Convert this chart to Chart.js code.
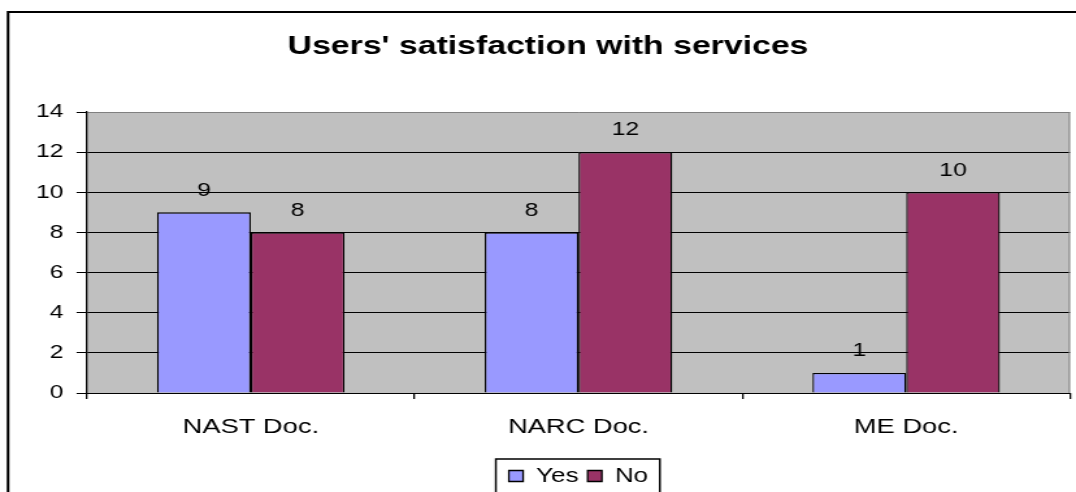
<!DOCTYPE html>
<html>
<head>
<meta charset="utf-8">
<script src="https://cdn.jsdelivr.net/npm/chart.js@4.4.1/dist/chart.umd.min.js"></script>
<style>
    html, body { margin: 0; padding: 0; background: #fff; overflow: hidden; }
    #chart { display: block; width: 1076px !important; height: 492px !important; }
</style>
</head>
<body>
<!-- the original picture is stretched sideways, so the canvas is drawn narrow and widened by CSS -->
<canvas id="chart" width="828" height="492"></canvas>
<script>
// Chart data
const categories = ['NAST Doc.', 'NARC Doc.', 'ME Doc.'];
const yesValues = [9, 8, 1];
const noValues = [8, 12, 10];
const yTicks = [0, 2, 4, 6, 8, 10, 12, 14];

const fontFamily = '"Liberation Sans", Arial, sans-serif';

// Gray plot background + right border
const plotBackground = {
    id: 'plotBackground',
    beforeDraw(chart) {
        const { ctx, chartArea: a } = chart;
        ctx.save();
        ctx.fillStyle = '#C0C0C0';
        ctx.fillRect(a.left, a.top, a.right - a.left, a.bottom - a.top);
        ctx.restore();
    },
    beforeDatasetsDraw(chart) {
        const { ctx, chartArea: a } = chart;
        ctx.save();
        ctx.strokeStyle = '#808080';
        ctx.lineWidth = 1;
        ctx.beginPath();
        ctx.moveTo(a.right - 0.5, a.top);
        ctx.lineTo(a.right - 0.5, a.bottom);
        ctx.stroke();
        ctx.restore();
    }
};

// Value labels above the bars
const valueLabels = {
    id: 'valueLabels',
    afterDatasetsDraw(chart) {
        const ctx = chart.ctx;
        ctx.save();
        ctx.font = '19px ' + fontFamily;
        ctx.fillStyle = '#000';
        ctx.textAlign = 'center';
        ctx.textBaseline = 'middle';
        chart.data.datasets.forEach((ds, i) => {
            chart.getDatasetMeta(i).data.forEach((bar, j) => {
                ctx.fillText(String(ds.data[j]), bar.x, bar.y - 22);
            });
        });
        ctx.restore();
    }
};

// Outer frame and legend frame
const frames = {
    id: 'frames',
    afterDraw(chart) {
        const ctx = chart.ctx;
        ctx.save();
        ctx.strokeStyle = '#000';
        ctx.lineWidth = 2;
        ctx.beginPath();
        ctx.moveTo(6.2, chart.height + 2);
        ctx.lineTo(6.2, 12);
        ctx.lineTo(chart.width + 2, 12);
        ctx.stroke();

        const boxes = chart.legend.legendHitBoxes;
        if (boxes && boxes.length) {
            const first = boxes[0];
            const last = boxes[boxes.length - 1];
            const left = first.left - 10;
            const right = last.left + last.width + 9;
            const top = chart.legend.top;
            ctx.lineWidth = 1.5;
            ctx.beginPath();
            ctx.moveTo(left, chart.height + 2);
            ctx.lineTo(left, top);
            ctx.lineTo(right, top);
            ctx.lineTo(right, chart.height + 2);
            ctx.stroke();
        }
        ctx.restore();
    }
};

const ctx = document.getElementById('chart').getContext('2d');
const chart = new Chart(ctx, {
    type: 'bar',
    data: {
        labels: categories,
        datasets: [{
            label: 'Yes',
            data: yesValues,
            backgroundColor: '#9999FF',
            borderColor: '#000',
            borderWidth: 1.3,
            categoryPercentage: 0.572,
            barPercentage: 1.0
        }, {
            label: 'No',
            data: noValues,
            backgroundColor: '#993366',
            borderColor: '#000',
            borderWidth: 1.3,
            categoryPercentage: 0.572,
            barPercentage: 1.0
        }]
    },
    options: {
        responsive: false,
        devicePixelRatio: 1,
        animation: false,
        layout: {
            padding: { left: 20, right: 4.6, top: 0, bottom: -4 }
        },
        scales: {
            y: {
                min: 0,
                max: 14,
                afterBuildTicks: (scale) => {
                    scale.ticks = yTicks.map(v => ({ value: v }));
                },
                afterFit: (scale) => { scale.width = 46.9; },
                border: { color: '#000', width: 1.3 },
                grid: {
                    color: (c) => (c.tick && c.tick.value === 14 ? '#808080' : '#000'),
                    tickColor: '#000',
                    tickLength: 8,
                    lineWidth: 1
                },
                ticks: {
                    color: '#000',
                    padding: 10,
                    font: { family: fontFamily, size: 19 }
                }
            },
            x: {
                afterFit: (scale) => { scale.height = 66; },
                border: { color: '#000', width: 1 },
                grid: {
                    drawOnChartArea: false,
                    color: '#000',
                    tickLength: 6,
                    lineWidth: 1.3
                },
                ticks: {
                    color: '#000',
                    padding: 16,
                    font: { family: fontFamily, size: 21 }
                }
            }
        },
        plugins: {
            title: {
                display: true,
                text: "Users' satisfaction with services",
                color: '#000',
                font: { family: fontFamily, size: 26, weight: 'bold' },
                padding: { top: 31, bottom: 49.8 }
            },
            legend: {
                position: 'bottom',
                fullSize: false,
                labels: {
                    color: '#000',
                    boxWidth: 11,
                    boxHeight: 11,
                    padding: 7,
                    font: { family: fontFamily, size: 20 }
                }
            },
            tooltip: { enabled: false }
        }
    },
    plugins: [plotBackground, valueLabels, frames]
});
</script>
</body>
</html>
